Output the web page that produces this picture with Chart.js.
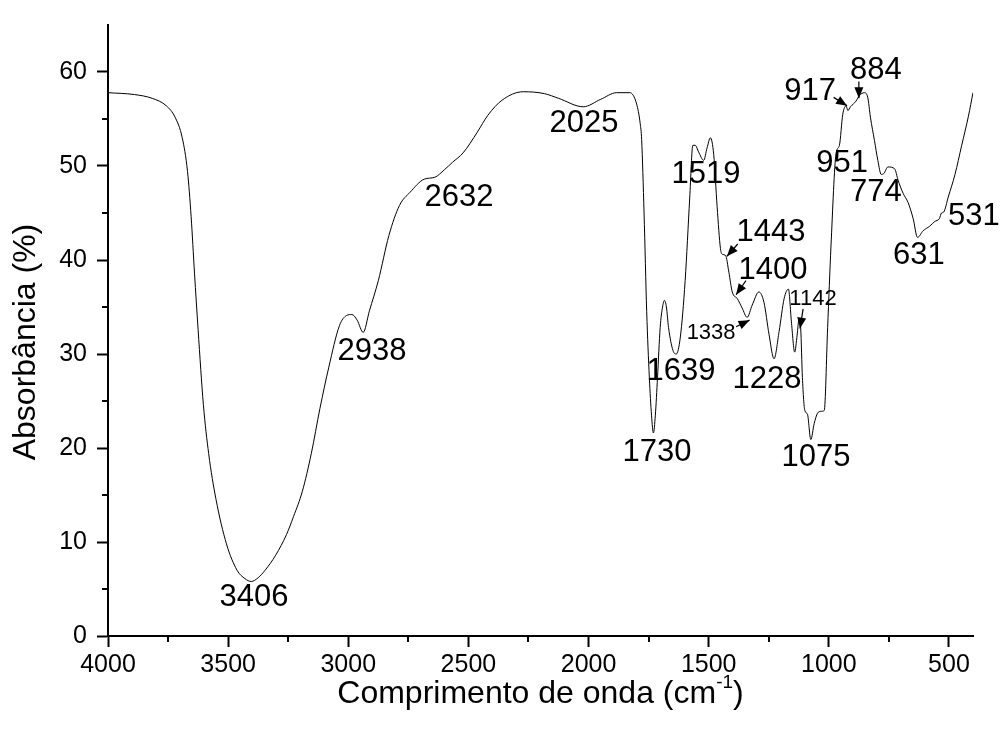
<!DOCTYPE html>
<html>
<head>
<meta charset="utf-8">
<script src="https://cdn.jsdelivr.net/npm/chart.js@4.4.1/dist/chart.umd.min.js"></script>
<style>
  html, body { margin: 0; padding: 0; background: #fff; }
  #wrap { width: 1000px; height: 740px; position: relative; }
</style>
</head>
<body>
<div id="wrap"><canvas id="ftir"></canvas></div>
<script>
// FTIR spectrum
var wavenumber = [4000, 3890, 3816, 3757, 3721, 3691, 3669, 3654, 3640, 3625, 3603, 3581, 3551, 3507, 3463, 3430, 3404, 3375, 3346, 3302,
  3257, 3228, 3191, 3154, 3118, 3081, 3037, 3007, 2985, 2963, 2938, 2912, 2875, 2831, 2787, 2743, 2684, 2640, 2600, 2566, 2522,
  2463, 2419, 2360, 2272, 2184, 2125, 2022, 1949, 1883, 1828, 1800, 1785, 1779, 1769, 1758, 1747, 1738, 1730, 1722, 1713,
  1702, 1692, 1684, 1676, 1667, 1649, 1635, 1618, 1598, 1579, 1566, 1556, 1542, 1521, 1507, 1493, 1479, 1465, 1451, 1443,
  1430, 1416, 1402, 1381, 1361, 1340, 1319, 1291, 1270, 1249, 1228, 1207, 1186, 1168, 1156, 1142, 1132, 1124, 1117, 1110,
  1100, 1089, 1075, 1061, 1047, 1033, 1019, 1005, 991, 970, 956, 942, 928, 921, 910, 898, 887, 873, 852, 838,
  827, 810, 796, 782, 771, 754, 726, 712, 691, 670, 649, 631, 608, 580, 559, 540, 531, 522, 503, 475, 447, 419, 400];
var absorbance = [57.8, 57.6, 57.2, 56.4, 55.2, 53.0, 49.4, 44.6, 38.6, 32.6, 24.6, 19.4, 14.6, 9.8, 7.0, 6.1, 5.8, 6.2, 7.0, 8.6,
  10.8, 12.7, 15.4, 19.4, 24.2, 28.6, 33.0, 34.1, 34.2, 33.6, 32.3, 34.6, 37.8, 42.6, 45.8, 47.2, 48.6, 48.8, 49.6, 50.4, 51.4,
  53.6, 55.4, 57.0, 57.9, 57.7, 57.2, 56.3, 57.1, 57.8, 57.8, 56.6, 54.5, 52.8, 45.0, 34.5, 27.5, 23.5, 21.6, 23.5, 27.5,
  32.8, 35.0, 35.7, 35.0, 32.8, 30.4, 30.0, 31.8, 37.8, 46.6, 52.2, 52.2, 51.5, 50.6, 51.9, 53.0, 51.2, 45.7, 41.2, 40.6,
  40.5, 38.7, 36.6, 35.9, 34.9, 33.9, 35.2, 36.6, 35.5, 32.1, 29.5, 32.4, 35.9, 36.9, 33.5, 30.2, 32.0, 33.7, 32.7, 27.5,
  24.0, 23.6, 20.9, 22.6, 23.7, 23.9, 24.0, 32.8, 41.5, 51.3, 52.2, 55.5, 56.4, 55.9, 56.3, 56.6, 56.9, 57.5, 57.8, 57.3,
  55.2, 52.7, 50.6, 49.1, 49.2, 49.9, 49.7, 48.5, 47.1, 46.1, 44.4, 42.4, 43.1, 43.6, 44.1, 44.4, 45.0, 45.1, 46.7, 49.1, 52.2, 55.3, 57.8];

var xTicks = [4000, 3500, 3000, 2500, 2000, 1500, 1000, 500];
var xMinorTicks = [3750, 3250, 2750, 2250, 1750, 1250, 750];
var yTicks = [0, 10, 20, 30, 40, 50, 60];
var yMinorTicks = [5, 15, 25, 35, 45, 55];

var xTitle = 'Comprimento de onda (cm';
var xTitleSup = '-1';
var yTitle = 'Absorbância (%)';

// peak labels, anchored in data units
var peakLabels = [
  { text: '3406', wn: 3392, abs: 4.1 },
  { text: '2938', wn: 2901, abs: 30.3 },
  { text: '2632', wn: 2539, abs: 46.7 },
  { text: '2025', wn: 2019, abs: 54.5 },
  { text: '1730', wn: 1715, abs: 19.5 },
  { text: '1639', wn: 1615, abs: 28.1 },
  { text: '1519', wn: 1511, abs: 49.1 },
  { text: '1443', wn: 1241, abs: 42.9 },
  { text: '1400', wn: 1232, abs: 38.9 },
  { text: '1338', wn: 1490, abs: 32.2, small: true },
  { text: '1228', wn: 1257, abs: 27.3 },
  { text: '1142', wn: 1066, abs: 35.9, small: true },
  { text: '1075', wn: 1053, abs: 19.0 },
  { text: '951', wn: 945, abs: 50.3 },
  { text: '917', wn: 1078, abs: 57.9 },
  { text: '884', wn: 804, abs: 60.2 },
  { text: '774', wn: 804, abs: 47.2 },
  { text: '631', wn: 625, abs: 40.5 },
  { text: '531', wn: 396, abs: 44.6 }
];
// arrows: from [wn, abs] to [wn, abs]
var peakArrows = [
  [[980, 57.3], [924, 56.4]],
  [[875, 59.0], [875, 57.2]],
  [[1379, 41.7], [1424, 40.4]],
  [[1345, 37.8], [1386, 36.3]],
  [[1386, 32.9], [1330, 33.6]],
  [[1107, 34.8], [1120, 32.7]]
];

var fontName = "'Liberation Sans', Arial, Helvetica, sans-serif";

var points = wavenumber.map(function (w, i) { return { x: w, y: absorbance[i] }; });

var extras = {
  id: 'extras',
  afterDraw: function (chart) {
    var ctx = chart.ctx;
    var xs = chart.scales.x, ys = chart.scales.y;
    var area = chart.chartArea;
    ctx.save();

    // minor ticks
    ctx.strokeStyle = '#000';
    ctx.lineWidth = 2;
    xMinorTicks.forEach(function (v) {
      var px = Math.round(xs.getPixelForValue(v));
      ctx.beginPath(); ctx.moveTo(px, area.bottom); ctx.lineTo(px, area.bottom + 6); ctx.stroke();
    });
    yMinorTicks.forEach(function (v) {
      var py = Math.round(ys.getPixelForValue(v));
      ctx.beginPath(); ctx.moveTo(area.left, py); ctx.lineTo(area.left - 6, py); ctx.stroke();
    });

    // peak labels
    ctx.fillStyle = '#000';
    ctx.textAlign = 'center';
    ctx.textBaseline = 'middle';
    peakLabels.forEach(function (p) {
      ctx.font = (p.small ? '22px ' : '31px ') + fontName;
      ctx.fillText(p.text, xs.getPixelForValue(p.wn), ys.getPixelForValue(p.abs));
    });

    // arrows
    ctx.lineWidth = 1.2;
    peakArrows.forEach(function (a) {
      var x0 = xs.getPixelForValue(a[0][0]), y0 = ys.getPixelForValue(a[0][1]);
      var x1 = xs.getPixelForValue(a[1][0]), y1 = ys.getPixelForValue(a[1][1]);
      var ang = Math.atan2(y1 - y0, x1 - x0);
      ctx.beginPath(); ctx.moveTo(x0, y0); ctx.lineTo(x1, y1); ctx.stroke();
      ctx.beginPath();
      ctx.moveTo(x1, y1);
      ctx.lineTo(x1 - 11 * Math.cos(ang) + 4.5 * Math.sin(ang), y1 - 11 * Math.sin(ang) - 4.5 * Math.cos(ang));
      ctx.lineTo(x1 - 11 * Math.cos(ang) - 4.5 * Math.sin(ang), y1 - 11 * Math.sin(ang) + 4.5 * Math.cos(ang));
      ctx.closePath(); ctx.fill();
    });

    // axis titles (x has a superscript)
    ctx.font = '32px ' + fontName;
    ctx.textAlign = 'left';
    ctx.textBaseline = 'alphabetic';
    var w1 = ctx.measureText(xTitle).width;
    ctx.font = '19px ' + fontName;
    var w2 = ctx.measureText(xTitleSup).width;
    ctx.font = '32px ' + fontName;
    var w3 = ctx.measureText(')').width;
    var cx = (area.left + area.right) / 2;
    var sx = cx - (w1 + w2 + w3) / 2;
    var base = 703;
    ctx.fillText(xTitle, sx, base);
    ctx.font = '19px ' + fontName;
    ctx.fillText(xTitleSup, sx + w1, base - 15);
    ctx.font = '32px ' + fontName;
    ctx.fillText(')', sx + w1 + w2, base);

    ctx.translate(26, 342);
    ctx.rotate(-Math.PI / 2);
    ctx.textAlign = 'center';
    ctx.textBaseline = 'middle';
    ctx.fillText(yTitle, 0, 0);
    ctx.restore();
  }
};

var spectrum = new Chart(document.getElementById('ftir'), {
  type: 'line',
  data: {
    datasets: [{
      label: 'FTIR',
      data: points,
      borderColor: '#000',
      borderWidth: 1,
      pointRadius: 0,
      fill: false,
      cubicInterpolationMode: 'monotone'
    }]
  },
  options: {
    responsive: true,
    maintainAspectRatio: false,
    animation: false,
    layout: { padding: { left: 0, right: 27, top: 16, bottom: 0 } },
    plugins: { legend: { display: false }, tooltip: { enabled: false } },
    scales: {
      x: {
        type: 'linear',
        reverse: true,
        min: 400,
        max: 4000,
        afterBuildTicks: function (scale) { scale.ticks = xTicks.map(function (v) { return { value: v }; }); },
        afterFit: function (scale) { scale.height = 104; },
        border: { display: true, color: '#000', width: 2 },
        grid: { drawOnChartArea: false, drawTicks: true, tickLength: 11, tickWidth: 2, tickColor: '#000' },
        ticks: {
          color: '#000', font: { family: fontName, size: 25 }, padding: 3, maxRotation: 0, autoSkip: false,
          callback: function (v) { return String(v); }
        }
      },
      y: {
        min: 0,
        max: 65,
        afterBuildTicks: function (scale) { scale.ticks = yTicks.map(function (v) { return { value: v }; }); },
        afterFit: function (scale) { scale.width = 108; },
        border: { display: true, color: '#000', width: 2 },
        grid: { drawOnChartArea: false, drawTicks: true, tickLength: 11, tickWidth: 2, tickColor: '#000' },
        ticks: {
          color: '#000', font: { family: fontName, size: 25 }, padding: 10, autoSkip: false,
          callback: function (v) { return String(v); }
        }
      }
    }
  },
  plugins: [extras]
});
</script>
</body>
</html>
